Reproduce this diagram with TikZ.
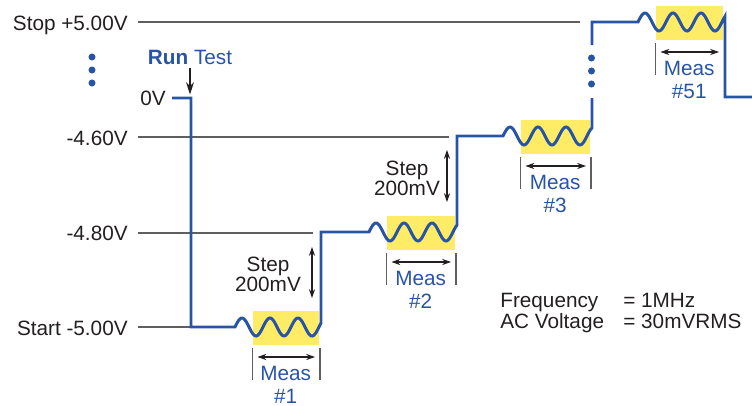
\documentclass[tikz,border=0pt]{standalone}
\usepackage{fontspec}
\setmainfont{Liberation Sans}
\usepackage{xcolor}
\usetikzlibrary{arrows.meta}

\definecolor{sigblue}{RGB}{40,84,166}
\definecolor{measyellow}{RGB}{255,236,102}
\definecolor{refgray}{RGB}{95,95,95}
\definecolor{txt}{RGB}{35,31,32}

\begin{document}
\begin{tikzpicture}[x={(0.02cm,0)}, y={(0,-0.02cm)},
    every node/.style={font=\fontsize{11.8}{12.9}\selectfont, inner sep=0pt, text=txt},
    level/.style={anchor=base east},
    refline/.style={refgray, line width=0.6pt},
    wave/.style={sigblue, line width=1.7pt},
    tick/.style={refgray, line width=0.6pt},
    dim/.style={{Stealth[length=5pt,width=3.5pt]}-{Stealth[length=5pt,width=3.5pt]}, line width=0.6pt, txt},
    meas/.style={align=center, anchor=north, text=sigblue},
    steptext/.style={align=center, anchor=north, font=\fontsize{11.8}{11.3}\selectfont},
    dot/.style={fill=sigblue}]
    \useasboundingbox (0,0) rectangle (752,406);

    % Measurement windows (start of signal / end of signal / level)
    \foreach \s/\e/\yb in {235/321/327, 369/457/232, 503/592/136, 638/725/22}
        \fill[measyellow] ({\s+17.5},{\yb-16.5}) rectangle ({\e-2},{\yb+18});

    % Reference levels
    \node[level] (stop) at (128,30) {Stop +5.00V};
    \node[level] (zero) at (166,105.5) {0V};
    \node[level] (m460) at (128,145) {-4.60V};
    \node[level] (m480) at (128,240.5) {-4.80V};
    \node[level] (start) at (128,335) {Start -5.00V};
    \draw[refline] (138,22) -- (580,22);
    \draw[refline] (138,137) -- (449,137);
    \draw[refline] (138,233) -- (313,233);
    \draw[refline] (138,327) -- (191,327);

    % Staircase with AC signal (period 28, 360/28 = 12.857)
    \draw[wave] (172,98) -- (191,98) -- (191,327) -- (235,327)
        -- plot[domain=0:86, samples=70, variable=\t] ({235+\t},{327-9*sin(\t*12.857)})
        -- (321,232) -- (369,232)
        -- plot[domain=0:88, samples=70, variable=\t] ({369+\t},{232-9*sin(\t*12.857)})
        -- (457,136) -- (503,136)
        -- plot[domain=0:89, samples=70, variable=\t] ({503+\t},{136-9*sin(\t*12.857)})
        -- (592,98);
    \draw[wave] (592,45) -- (592,22) -- (638,22)
        -- plot[domain=0:87, samples=70, variable=\t] ({638+\t},{22-9*sin(\t*12.857)})
        -- (725,97) -- (752,97);

    % Dots
    \foreach \y in {57,70,83} {
        \fill[dot] (92,\y) circle[radius=2pt];
        \fill[dot] (591.5,{\y+1}) circle[radius=2pt];
    }

    % Run Test
    \node[anchor=base, text=sigblue] (run) at (190,64) {\textbf{Run} Test};
    \coordinate (v0) at (190,98);
    \draw[-{Stealth[length=7pt,width=4.5pt]}, line width=0.6pt, txt, shorten <=2pt, shorten >=2pt] (run.south) -- (v0);

    % Measurement spans
    \foreach \s/\e/\yb/\n in {235/321/327/1, 369/457/232/2, 503/592/136/3, 638/725/22/51} {
        \draw[tick] ({\s+17.5},{\yb+21}) -- ({\s+17.5},{\yb+53});
        \coordinate (ml\n) at ({\s+22.5},{\yb+30});
        \coordinate (mr\n) at ({\e-6},{\yb+30});
        \draw[dim] (ml\n) -- (mr\n);
        \node[meas] (meas\n) at ({(\s+\e+15.5)/2},{\yb+39}) {Meas\\\#\n};
    }
    \foreach \e/\yb in {321/327, 457/232, 592/136}
        \draw[tick] ({\e-1},{\yb+21}) -- ({\e-1},{\yb+53});

    % Step sizes
    \coordinate (st1a) at (312,247);
    \coordinate (st1b) at (312,298);
    \draw[dim] (st1a) -- (st1b);
    \node[steptext] (step1) at (268,257) {Step\\200mV};
    \coordinate (st2a) at (447,150);
    \coordinate (st2b) at (447,202);
    \draw[dim] (st2a) -- (st2b);
    \node[steptext] (step2) at (407,161) {Step\\200mV};

    % Signal settings
    \node[anchor=base west] (freq) at (500,307) {Frequency};
    \node[anchor=base west] (acv) at (500,328) {AC Voltage};
    \node[anchor=base west] (freqv) at (623,307) {= 1MHz};
    \node[anchor=base west] (acvv) at (623,328) {= 30mVRMS};
\end{tikzpicture}
\end{document}
